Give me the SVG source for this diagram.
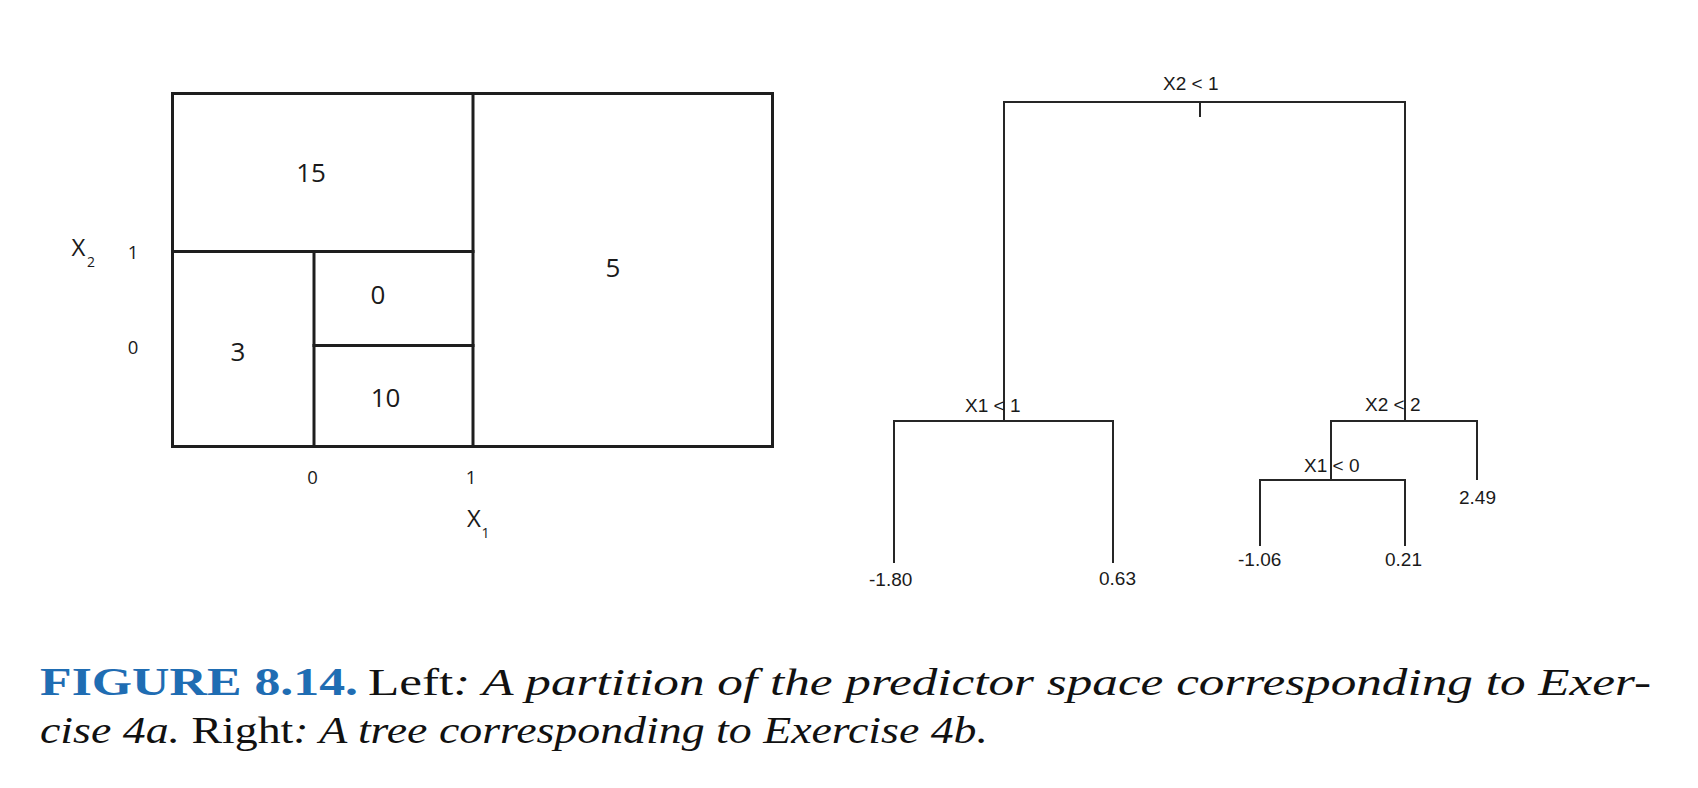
<svg xmlns="http://www.w3.org/2000/svg" width="1698" height="788" viewBox="0 0 1698 788">
<style>
.box{fill:none;stroke:#1e1e1e;stroke-width:3;stroke-linecap:square}
.reg{font-family:"Open Sans","Liberation Sans",sans-serif;font-size:26px;fill:#1a1a1a;text-anchor:middle}
.ax{font-family:"Open Sans","Liberation Sans",sans-serif;font-size:18.5px;fill:#1a1a1a;text-anchor:middle}
.axl{font-family:"Open Sans","Liberation Sans",sans-serif;font-size:24px;fill:#1a1a1a}
.sub{font-family:"Open Sans","Liberation Sans",sans-serif;font-size:14px;fill:#1a1a1a}
.edge{fill:none;stroke:#262626;stroke-width:2}
.tl{font-family:"Liberation Sans",Arial,sans-serif;font-size:19px;fill:#1a1a1a}
.cap{font-family:"Liberation Serif","Times New Roman",serif;font-size:38px;fill:#111}
.it{font-style:italic}
.fig{font-family:"Liberation Serif","Times New Roman",serif;font-size:40px;font-weight:bold;fill:#1f6db3}
</style>
<rect width="1698" height="788" fill="#ffffff"/>

<g id="partition">
  <rect class="box" x="172.5" y="93.5" width="600" height="353"/>
  <line class="box" x1="473" y1="93.5" x2="473" y2="446.5"/>
  <line class="box" x1="172.5" y1="251.5" x2="473" y2="251.5"/>
  <line class="box" x1="314" y1="251.5" x2="314" y2="446.5"/>
  <line class="box" x1="314" y1="345.5" x2="473" y2="345.5"/>
  <text class="reg" x="311" y="181.5">15</text>
  <text class="reg" x="378" y="303.5">0</text>
  <text class="reg" x="385.5" y="407">10</text>
  <text class="reg" x="238" y="360.5">3</text>
  <text class="reg" x="613" y="276.5">5</text>
  <text class="ax" x="133" y="258.5">1</text>
  <text class="ax" x="133" y="353.5">0</text>
  <text class="ax" x="312.5" y="483.5">0</text>
  <text class="ax" x="471" y="483.5">1</text>
  <text class="axl" x="71.5" y="256">X</text>
  <text class="sub" x="87" y="266.5">2</text>
  <text class="axl" x="467" y="526.5">X</text>
  <text class="sub" x="481.5" y="538">1</text>
</g>

<g id="connectors">
  <path class="edge" d="M1004,421 V102 H1405 V421"/>
  <line class="edge" x1="1200" y1="102" x2="1200" y2="117" stroke-width="1.6"/>
  <path class="edge" d="M894,563 V421 H1113 V563"/>
  <path class="edge" d="M1331,480 V421 H1477 V480"/>
  <path class="edge" d="M1260,546 V480 H1405 V546"/>
</g>

<g id="node-root"><text class="tl" x="1163" y="89.5">X2 &lt; 1</text></g>
<g id="node-x1lt1"><text class="tl" x="965" y="411.5">X1 &lt; 1</text></g>
<g id="node-x2lt2"><text class="tl" x="1365" y="411">X2 &lt; 2</text></g>
<g id="node-x1lt0"><text class="tl" x="1304" y="471.5">X1 &lt; 0</text></g>
<g id="leaf-180"><text class="tl" x="869" y="585.5">-1.80</text></g>
<g id="leaf-063"><text class="tl" x="1099" y="585">0.63</text></g>
<g id="leaf-106"><text class="tl" x="1238" y="566">-1.06</text></g>
<g id="leaf-021"><text class="tl" x="1385" y="566">0.21</text></g>
<g id="leaf-249"><text class="tl" x="1459" y="503.5">2.49</text></g>

<g id="caption">
  <text class="fig" x="40" y="695" textLength="318" lengthAdjust="spacingAndGlyphs">FIGURE 8.14.</text>
  <text class="cap" x="368" y="695" textLength="1283" lengthAdjust="spacingAndGlyphs">Left<tspan class="it">: A partition of the predictor space corresponding to Exer-</tspan></text>
  <text class="cap" x="40" y="743" textLength="948" lengthAdjust="spacingAndGlyphs"><tspan class="it">cise 4a.</tspan> Right<tspan class="it">: A tree corresponding to Exercise 4b.</tspan></text>
</g>
</svg>
